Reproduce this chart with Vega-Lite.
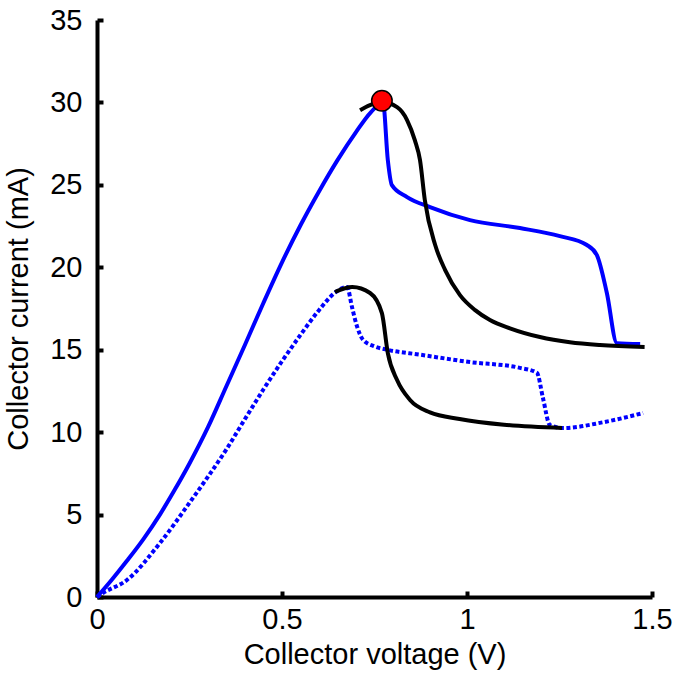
{
  "$schema": "https://vega.github.io/schema/vega-lite/v6.json",
  "autosize": "none",
  "width": 555,
  "height": 577,
  "padding": {"left": 97, "top": 20, "right": 27, "bottom": 81},
  "background": "white",
  "config": {
    "view": {"stroke": null},
    "axis": {
      "grid": false,
      "labelFlush": false,
      "domainColor": "black",
      "domainWidth": 4,
      "tickColor": "black",
      "tickWidth": 4,
      "labelFont": "Liberation Sans",
      "labelFontSize": 29,
      "labelColor": "black",
      "titleFont": "Liberation Sans",
      "titleFontSize": 29,
      "titleFontWeight": "normal",
      "titleColor": "black"
    }
  },
  "datasets": {
    "curves": [
      {"s": "blueSolid", "i": 0, "x": 0, "y": 0},
      {"s": "blueSolid", "i": 1, "x": 0.04, "y": 1.05},
      {"s": "blueSolid", "i": 2, "x": 0.081, "y": 2.2},
      {"s": "blueSolid", "i": 3, "x": 0.125, "y": 3.5},
      {"s": "blueSolid", "i": 4, "x": 0.17, "y": 5.0},
      {"s": "blueSolid", "i": 5, "x": 0.21, "y": 6.5},
      {"s": "blueSolid", "i": 6, "x": 0.25, "y": 8.1},
      {"s": "blueSolid", "i": 7, "x": 0.3, "y": 10.3},
      {"s": "blueSolid", "i": 8, "x": 0.35, "y": 12.8},
      {"s": "blueSolid", "i": 9, "x": 0.4, "y": 15.3},
      {"s": "blueSolid", "i": 10, "x": 0.45, "y": 17.85},
      {"s": "blueSolid", "i": 11, "x": 0.5, "y": 20.3},
      {"s": "blueSolid", "i": 12, "x": 0.55, "y": 22.55},
      {"s": "blueSolid", "i": 13, "x": 0.6, "y": 24.6},
      {"s": "blueSolid", "i": 14, "x": 0.65, "y": 26.5},
      {"s": "blueSolid", "i": 15, "x": 0.7, "y": 28.2},
      {"s": "blueSolid", "i": 16, "x": 0.74, "y": 29.4},
      {"s": "blueSolid", "i": 17, "x": 0.773, "y": 30.0},
      {"s": "blueSolid", "i": 18, "x": 0.786, "y": 26.5},
      {"s": "blueSolid", "i": 19, "x": 0.797, "y": 24.98},
      {"s": "blueSolid", "i": 20, "x": 0.838, "y": 24.26},
      {"s": "blueSolid", "i": 21, "x": 0.9, "y": 23.65},
      {"s": "blueSolid", "i": 22, "x": 1.008, "y": 22.86},
      {"s": "blueSolid", "i": 23, "x": 1.143, "y": 22.38},
      {"s": "blueSolid", "i": 24, "x": 1.251, "y": 21.89},
      {"s": "blueSolid", "i": 25, "x": 1.324, "y": 21.35},
      {"s": "blueSolid", "i": 26, "x": 1.351, "y": 20.74},
      {"s": "blueSolid", "i": 27, "x": 1.378, "y": 18.44},
      {"s": "blueSolid", "i": 28, "x": 1.405, "y": 15.4},
      {"s": "blueSolid", "i": 29, "x": 1.468, "y": 15.34},

      {"s": "blueDot", "i": 0, "x": 0, "y": 0},
      {"s": "blueDot", "i": 1, "x": 0.016, "y": 0.24},
      {"s": "blueDot", "i": 2, "x": 0.081, "y": 1.03},
      {"s": "blueDot", "i": 3, "x": 0.17, "y": 3.27},
      {"s": "blueDot", "i": 4, "x": 0.259, "y": 6.0},
      {"s": "blueDot", "i": 5, "x": 0.3, "y": 7.3},
      {"s": "blueDot", "i": 6, "x": 0.351, "y": 9.0},
      {"s": "blueDot", "i": 7, "x": 0.4, "y": 10.8},
      {"s": "blueDot", "i": 8, "x": 0.45, "y": 12.6},
      {"s": "blueDot", "i": 9, "x": 0.5, "y": 14.3},
      {"s": "blueDot", "i": 10, "x": 0.55, "y": 15.9},
      {"s": "blueDot", "i": 11, "x": 0.6, "y": 17.4},
      {"s": "blueDot", "i": 12, "x": 0.64, "y": 18.4},
      {"s": "blueDot", "i": 13, "x": 0.676, "y": 18.8},
      {"s": "blueDot", "i": 14, "x": 0.689, "y": 17.6},
      {"s": "blueDot", "i": 15, "x": 0.703, "y": 16.4},
      {"s": "blueDot", "i": 16, "x": 0.719, "y": 15.6},
      {"s": "blueDot", "i": 17, "x": 0.75, "y": 15.2},
      {"s": "blueDot", "i": 18, "x": 0.784, "y": 15.0},
      {"s": "blueDot", "i": 19, "x": 0.873, "y": 14.7},
      {"s": "blueDot", "i": 20, "x": 1.008, "y": 14.25},
      {"s": "blueDot", "i": 21, "x": 1.143, "y": 13.9},
      {"s": "blueDot", "i": 22, "x": 1.189, "y": 13.6},
      {"s": "blueDot", "i": 23, "x": 1.205, "y": 12.1},
      {"s": "blueDot", "i": 24, "x": 1.224, "y": 10.43},
      {"s": "blueDot", "i": 25, "x": 1.259, "y": 10.25},
      {"s": "blueDot", "i": 26, "x": 1.368, "y": 10.6},
      {"s": "blueDot", "i": 27, "x": 1.476, "y": 11.16},

      {"s": "blackUpper", "i": 0, "x": 0.711, "y": 29.53},
      {"s": "blackUpper", "i": 1, "x": 0.738, "y": 29.84},
      {"s": "blackUpper", "i": 2, "x": 0.77, "y": 30.02},
      {"s": "blackUpper", "i": 3, "x": 0.811, "y": 29.71},
      {"s": "blackUpper", "i": 4, "x": 0.838, "y": 28.93},
      {"s": "blackUpper", "i": 5, "x": 0.859, "y": 27.71},
      {"s": "blackUpper", "i": 6, "x": 0.873, "y": 26.5},
      {"s": "blackUpper", "i": 7, "x": 0.886, "y": 24.08},
      {"s": "blackUpper", "i": 8, "x": 0.914, "y": 21.35},
      {"s": "blackUpper", "i": 9, "x": 0.941, "y": 19.83},
      {"s": "blackUpper", "i": 10, "x": 0.981, "y": 18.31},
      {"s": "blackUpper", "i": 11, "x": 1.022, "y": 17.4},
      {"s": "blackUpper", "i": 12, "x": 1.062, "y": 16.8},
      {"s": "blackUpper", "i": 13, "x": 1.116, "y": 16.3},
      {"s": "blackUpper", "i": 14, "x": 1.197, "y": 15.77},
      {"s": "blackUpper", "i": 15, "x": 1.278, "y": 15.45},
      {"s": "blackUpper", "i": 16, "x": 1.359, "y": 15.28},
      {"s": "blackUpper", "i": 17, "x": 1.48, "y": 15.16},

      {"s": "blackLower", "i": 0, "x": 0.643, "y": 18.5},
      {"s": "blackLower", "i": 1, "x": 0.69, "y": 18.8},
      {"s": "blackLower", "i": 2, "x": 0.738, "y": 18.44},
      {"s": "blackLower", "i": 3, "x": 0.77, "y": 17.22},
      {"s": "blackLower", "i": 4, "x": 0.786, "y": 14.8},
      {"s": "blackLower", "i": 5, "x": 0.811, "y": 13.16},
      {"s": "blackLower", "i": 6, "x": 0.846, "y": 11.95},
      {"s": "blackLower", "i": 7, "x": 0.9, "y": 11.2},
      {"s": "blackLower", "i": 8, "x": 0.98, "y": 10.8},
      {"s": "blackLower", "i": 9, "x": 1.1, "y": 10.45},
      {"s": "blackLower", "i": 10, "x": 1.257, "y": 10.25}
    ],
    "peak": [{"x": 0.77, "y": 30.1}]
  },
  "encoding": {
    "x": {
      "field": "x", "type": "quantitative",
      "scale": {"domain": [0, 1.5], "nice": false, "zero": false},
      "axis": {"title": "Collector voltage (V)", "values": [0, 0.5, 1, 1.5], "format": "~g", "tickSize": -6, "labelPadding": 14, "titlePadding": 6}
    },
    "y": {
      "field": "y", "type": "quantitative",
      "scale": {"domain": [0, 35], "nice": false},
      "axis": {"title": "Collector current (mA)", "values": [0, 5, 10, 15, 20, 25, 30, 35], "format": "~g", "tickSize": -6, "labelPadding": 21, "titlePadding": 16}
    }
  },
  "layer": [
    {
      "data": {"name": "curves"},
      "transform": [{"filter": "datum.s === 'blueSolid'"}],
      "mark": {"type": "line", "color": "#0000ff", "strokeWidth": 4, "strokeJoin": "round", "interpolate": "monotone"},
      "encoding": {"order": {"field": "i", "type": "quantitative"}}
    },
    {
      "data": {"name": "curves"},
      "transform": [{"filter": "datum.s === 'blueDot'"}],
      "mark": {"type": "line", "color": "#0000ff", "strokeWidth": 4, "strokeDash": [4, 2.5], "interpolate": "monotone"},
      "encoding": {"order": {"field": "i", "type": "quantitative"}}
    },
    {
      "data": {"name": "curves"},
      "transform": [{"filter": "datum.s === 'blackUpper' || datum.s === 'blackLower'"}],
      "mark": {"type": "line", "color": "black", "strokeWidth": 4, "interpolate": "monotone"},
      "encoding": {"detail": {"field": "s"}, "order": {"field": "i", "type": "quantitative"}}
    },
    {
      "data": {"name": "peak"},
      "mark": {"type": "point", "filled": true, "fill": "#ff0000", "stroke": "black", "strokeWidth": 1.5, "size": 420, "opacity": 1}
    }
  ]
}
